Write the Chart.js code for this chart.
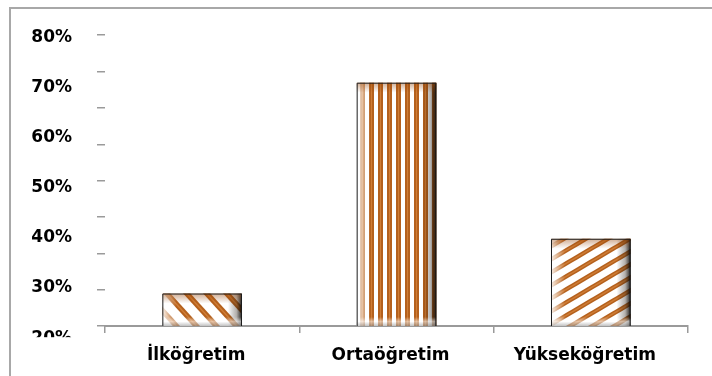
<!DOCTYPE html>
<html lang="tr">
<head>
<meta charset="utf-8">
<title>Eğitim Düzeyi</title>
<script src="https://cdn.jsdelivr.net/npm/chart.js@4.4.1/dist/chart.umd.min.js"></script>
<style>
  body { margin: 0; background: #fff; }
  #wrap { position: relative; width: 712px; height: 376px; overflow: hidden; }
  #frame { position: absolute; left: 9px; top: 7px; right: -4px; bottom: -4px;
           border-top: 2px solid #a8a8a8; border-left: 2px solid #a8a8a8; }
  #chart { position: absolute; left: 0; top: 0; }
</style>
</head>
<body>
<div id="wrap">
  <div id="frame"></div>
  <canvas id="chart" width="712" height="376"></canvas>
</div>
<script>
const categories = ['İlköğretim', 'Ortaöğretim', 'Yükseköğretim'];
const values = [26.7, 70.2, 38.0];
const labelTicks = [20, 30, 40, 50, 60, 70, 80];
const markTicks = [20, 27.5, 35, 42.5, 50, 57.5, 65, 72.5, 80];
const stripeKinds = ['down', 'vertical', 'up'];

const font = { family: 'DejaVu Sans', size: 17, weight: 'bold' };
const ink = '#b5611d';
const inkLight = '#cf7d36';

// small repeating tiles for the striped bar fills
function stripes(kind) {
  const c = document.createElement('canvas');
  const g = c.getContext('2d');
  if (kind === 'vertical') {
    c.width = 9; c.height = 4;
    g.fillStyle = '#fff'; g.fillRect(0, 0, 9, 4);
    g.fillStyle = ink; g.fillRect(0, 0, 5, 4);
    g.fillStyle = inkLight; g.fillRect(2, 0, 1, 4);
    return g.createPattern(c, 'repeat');
  }
  const w = kind === 'down' ? 20 : 22;
  const h = kind === 'down' ? 22 : 13;
  c.width = w; c.height = h;
  g.fillStyle = '#fff'; g.fillRect(0, 0, w, h);
  [[ink, kind === 'down' ? 5.5 : 4.5], [inkLight, 1.5]].forEach(([col, lw]) => {
    g.strokeStyle = col; g.lineWidth = lw;
    for (const dx of [-w, 0, w]) {
      g.beginPath();
      if (kind === 'down') { g.moveTo(dx - w, -h); g.lineTo(dx + 2 * w, 2 * h); }
      else { g.moveTo(dx - w, 2 * h); g.lineTo(dx + 2 * w, -h); }
      g.stroke();
    }
  });
  return g.createPattern(c, 'repeat');
}

// shading on each bar so it looks like a rounded column
const bevel = {
  id: 'bevel',
  afterDatasetsDraw(chart) {
    const ctx = chart.ctx;
    chart.getDatasetMeta(0).data.forEach(bar => {
      const { x, y, base, width } = bar.getProps(['x', 'y', 'base', 'width'], true);
      const bottom = Math.min(base, chart.chartArea.bottom);
      const l = x - width / 2, r = x + width / 2, h = bottom - y;
      ctx.save();
      let g = ctx.createLinearGradient(l, 0, l + 14, 0);
      g.addColorStop(0, 'rgba(255,255,255,0.9)');
      g.addColorStop(1, 'rgba(255,255,255,0)');
      ctx.fillStyle = g; ctx.fillRect(l, y, 14, h);
      g = ctx.createLinearGradient(r - 14, 0, r, 0);
      g.addColorStop(0, 'rgba(0,0,0,0)');
      g.addColorStop(0.6, 'rgba(40,30,20,0.35)');
      g.addColorStop(1, 'rgba(0,0,0,0.9)');
      ctx.fillStyle = g; ctx.fillRect(r - 14, y, 14, h);
      g = ctx.createLinearGradient(0, y, 0, y + 10);
      g.addColorStop(0, 'rgba(150,70,10,0.45)');
      g.addColorStop(1, 'rgba(150,70,10,0)');
      ctx.fillStyle = g; ctx.fillRect(l, y, width, Math.min(10, h));
      g = ctx.createLinearGradient(0, bottom - 9, 0, bottom);
      g.addColorStop(0, 'rgba(255,255,255,0)');
      g.addColorStop(0.5, 'rgba(255,255,255,0.55)');
      g.addColorStop(1, 'rgba(150,150,150,0.6)');
      ctx.fillStyle = g; ctx.fillRect(l, bottom - 9, width, 9);
      ctx.strokeStyle = '#1c1c1c'; ctx.lineWidth = 1;
      ctx.beginPath();
      ctx.moveTo(l + 0.5, bottom); ctx.lineTo(l + 0.5, y + 0.5);
      ctx.lineTo(r - 0.5, y + 0.5); ctx.lineTo(r - 0.5, bottom);
      ctx.stroke();
      ctx.restore();
    });
  }
};

// the lowest axis label is cut in half by the plot edge
const cutLabel = {
  id: 'cutLabel',
  afterDraw(chart) {
    const s = chart.scales.yLabels;
    const cy = s.getPixelForValue(labelTicks[0]) - 1;
    chart.ctx.save();
    chart.ctx.fillStyle = '#fff';
    chart.ctx.fillRect(s.left + 14, cy, s.width - 20, 20);
    chart.ctx.restore();
  }
};

new Chart(document.getElementById('chart'), {
  type: 'bar',
  data: {
    labels: categories,
    datasets: [{
      data: values,
      backgroundColor: stripeKinds.map(stripes),
      borderWidth: 0,
      barPercentage: 0.41,
      categoryPercentage: 1
    }]
  },
  options: {
    responsive: false,
    animation: false,
    devicePixelRatio: 1,
    layout: { padding: { top: 33, right: 24, bottom: 0, left: 0 } },
    plugins: { legend: { display: false }, tooltip: { enabled: false } },
    scales: {
      x: {
        afterFit: s => { s.height = 50; },
        grid: { offset: true, drawOnChartArea: false, tickLength: 7, color: '#9a9a9a', lineWidth: 1.5 },
        border: { color: '#9a9a9a', width: 2 },
        ticks: { color: '#000', font, padding: 12, labelOffset: -6 }
      },
      y: {
        min: 20, max: 80, weight: 0,
        afterBuildTicks: s => { s.ticks = markTicks.map(v => ({ value: v })); },
        afterFit: s => { s.width = 8; },
        ticks: { display: false },
        grid: { drawOnChartArea: false, drawTicks: true, tickLength: 8, color: '#9a9a9a', lineWidth: 1.5 },
        border: { display: false }
      },
      yLabels: {
        position: 'left', weight: 1, min: 22.43, max: 80.4,
        afterBuildTicks: s => { s.ticks = labelTicks.map(v => ({ value: v })); },
        afterFit: s => { s.width = 97; },
        ticks: { callback: v => v + '%', padding: 25, color: '#000', font, autoSkip: false },
        grid: { display: false, drawTicks: false },
        border: { display: false }
      }
    }
  },
  plugins: [bevel, cutLabel]
});
</script>
</body>
</html>
